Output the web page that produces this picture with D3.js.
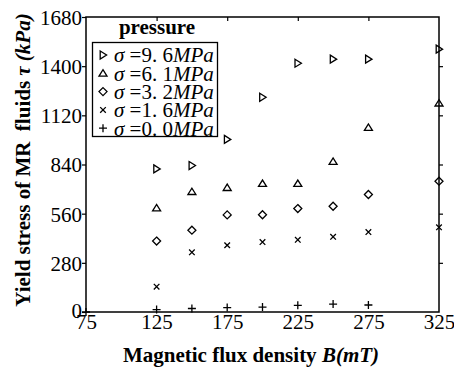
<!DOCTYPE html>
<html>
<head>
<meta charset="utf-8">
<script src="https://cdn.jsdelivr.net/npm/d3@7"></script>
<style>
  body { margin: 0; background: #fff; }
  svg { display: block; }
  svg text { font-family: "Liberation Serif", "DejaVu Serif", serif; }
</style>
</head>
<body>
<div id="chart"></div>
<script>
// data
const fluxB = [125, 150, 175, 200, 225, 250, 275, 325];
const stress96 = [815, 834, 983, 1223, 1417, 1440, 1440, 1497];
const stress61 = [592, 685, 708, 731, 731, 857, 1050, 1189];
const stress32 = [404, 466, 553, 554, 589, 602, 669, 745];
const stress16 = [144, 340, 380, 398, 411, 428, 455, 482];
const fluxB0 = [75, 125, 150, 175, 200, 225, 250, 275];
const stress00 = [0, 14, 20, 25, 28, 38, 45, 40];

const xTicks = [75, 125, 175, 225, 275, 325];
const yTicks = [0, 280, 560, 840, 1120, 1400, 1680];
const seriesNames = ['9. 6', '6. 1', '3. 2', '1. 6', '0. 0'];

const width = 454, height = 367;
const margin = { left: 86, right: 15, top: 17, bottom: 55 };
const serif = '"Liberation Serif", serif';

const svg = d3.select('#chart').append('svg')
  .attr('width', width)
  .attr('height', height);

const x = d3.scaleLinear().domain([75, 325]).range([margin.left, width - margin.right]);
const y = d3.scaleLinear().domain([0, 1680]).range([height - margin.bottom, margin.top]);

// marker shapes
const shapes = {
  tri: s => `M${-s * 0.35},${-s * 0.5}L${s * 0.45},0L${-s * 0.35},${s * 0.5}Z`,
  up: s => `M${-s * 0.5},${s * 0.35}L0,${-s * 0.45}L${s * 0.5},${s * 0.35}Z`,
  dia: s => `M0,${-s * 0.5}L${s * 0.5},0L0,${s * 0.5}L${-s * 0.5},0Z`,
  cross: s => `M${-s * 0.35},${-s * 0.35}L${s * 0.35},${s * 0.35}M${-s * 0.35},${s * 0.35}L${s * 0.35},${-s * 0.35}`,
  plus: s => `M${-s * 0.5},0L${s * 0.5},0M0,${-s * 0.5}L0,${s * 0.5}`
};

const series = [
  { shape: 'tri', xs: fluxB, ys: stress96 },
  { shape: 'up', xs: fluxB, ys: stress61 },
  { shape: 'dia', xs: fluxB, ys: stress32 },
  { shape: 'cross', xs: fluxB, ys: stress16 },
  { shape: 'plus', xs: fluxB0, ys: stress00 }
];

// axes box
const x0 = x.range()[0], x1 = x.range()[1], y0 = y.range()[0], y1 = y.range()[1];
svg.append('rect')
  .attr('x', x0).attr('y', y1)
  .attr('width', x1 - x0).attr('height', y0 - y1)
  .attr('fill', 'none').attr('stroke', '#000').attr('stroke-width', 1.5);

// left axis (ticks outward) and labels
const yAxis = d3.axisLeft(y).tickValues(yTicks).tickSize(4).tickFormat(d3.format('d'));
const gy = svg.append('g').attr('transform', `translate(${x0},0)`).call(yAxis);
gy.select('.domain').remove();
gy.selectAll('line').attr('stroke-width', 1.2);
gy.selectAll('text')
  .attr('x', -4)
  .attr('dy', (d) => d === 0 ? '0.25em' : '0.35em')
  .style('font-size', '21px')
  .style('font-family', serif);

// right axis inward ticks
const gyr = svg.append('g').attr('transform', `translate(${x1},0)`)
  .call(d3.axisLeft(y).tickValues(yTicks.slice(1, -1)).tickSize(4).tickFormat(''));
gyr.select('.domain').remove();
gyr.selectAll('line').attr('transform', 'translate(4,0)').attr('x2', -4).attr('stroke-width', 1.2);

// top axis inward ticks
const gxt = svg.append('g').attr('transform', `translate(0,${y1})`)
  .call(d3.axisBottom(x).tickValues(xTicks.slice(1, -1)).tickSize(4).tickFormat(''));
gxt.select('.domain').remove();
gxt.selectAll('line').attr('stroke-width', 1.2);

// bottom axis labels
const gx = svg.append('g').attr('transform', `translate(0,${y0})`)
  .call(d3.axisBottom(x).tickValues(xTicks).tickSize(0));
gx.select('.domain').remove();
gx.selectAll('text')
  .attr('y', 2)
  .attr('dy', '0.71em')
  .style('font-size', '21px')
  .style('font-family', serif);

// points
series.forEach(s => {
  svg.append('g').selectAll('path')
    .data(s.xs.map((b, i) => [b, s.ys[i]]))
    .enter().append('path')
    .attr('transform', d => `translate(${x(d[0])},${y(d[1])})`)
    .attr('d', shapes[s.shape](8))
    .attr('fill', 'none')
    .attr('stroke', '#000')
    .attr('stroke-width', 1.3);
});

// axis titles
svg.append('text')
  .attr('x', 251).attr('y', 362)
  .attr('text-anchor', 'middle')
  .style('font-size', '21px').style('font-weight', 'bold')
  .html('Magnetic flux density <tspan font-style="italic">B(mT)</tspan>');

svg.append('text')
  .attr('transform', 'translate(30,160) rotate(-90)')
  .attr('text-anchor', 'middle')
  .style('font-size', '21px').style('font-weight', 'bold')
  .html('Yield stress of MR&#160; fluids <tspan font-style="italic">τ (kPa)</tspan>');

// legend
const legend = svg.append('g');
legend.append('text')
  .attr('x', 157).attr('y', 34)
  .attr('text-anchor', 'middle')
  .style('font-size', '21px').style('font-weight', 'bold')
  .text('pressure');
legend.append('rect')
  .attr('x', 92.5).attr('y', 42.5)
  .attr('width', 125).attr('height', 94)
  .attr('fill', '#fff').attr('stroke', '#000').attr('stroke-width', 1.3);

const rows = legend.selectAll('.row')
  .data(series)
  .enter().append('g')
  .attr('class', 'row')
  .attr('transform', (d, i) => `translate(0,${55 + i * 18.3})`);
rows.append('path')
  .attr('transform', 'translate(103,0)')
  .attr('d', d => shapes[d.shape](8))
  .attr('fill', 'none').attr('stroke', '#000').attr('stroke-width', 1.3);
rows.append('text')
  .attr('x', 114).attr('dy', '0.35em')
  .style('font-size', '21px')
  .html((d, i) => `<tspan font-style="italic">σ</tspan> =${seriesNames[i]}<tspan font-style="italic">MPa</tspan>`);
</script>
</body>
</html>
